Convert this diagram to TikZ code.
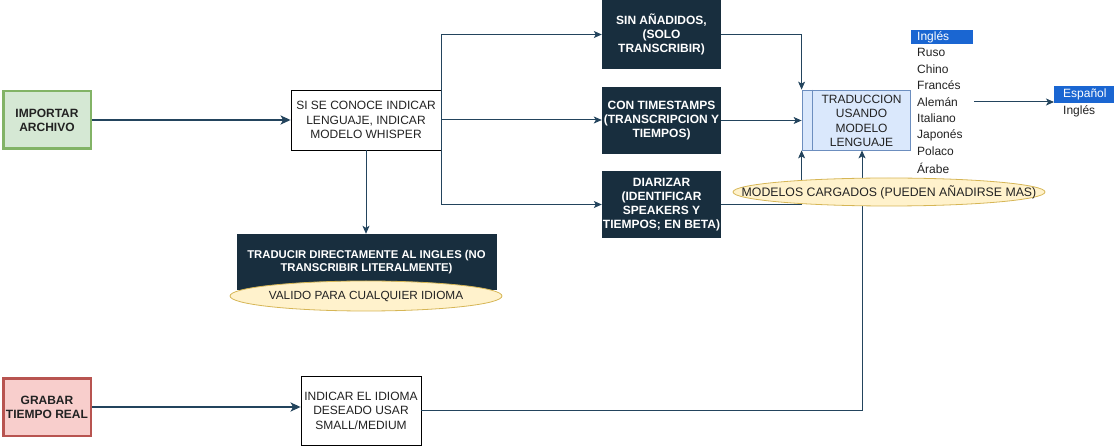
\documentclass[tikz,border=0pt]{standalone}
\usepackage{fontspec}
\setmainfont{Liberation Sans}
\usetikzlibrary{arrows.meta,shapes.geometric}
\definecolor{dk}{HTML}{182E3E}
\definecolor{ln}{HTML}{23445D}
\definecolor{gfill}{HTML}{D5E8D4}
\definecolor{gdraw}{HTML}{82B366}
\definecolor{rfill}{HTML}{F8CECC}
\definecolor{rdraw}{HTML}{B85450}
\definecolor{bfill}{HTML}{DAE8FC}
\definecolor{bdraw}{HTML}{6C8EBF}
\definecolor{yfill}{HTML}{FFF2CC}
\definecolor{ydraw}{HTML}{D6B656}
\definecolor{hl}{HTML}{1A66D2}
\definecolor{tx}{HTML}{222222}
\begin{document}
\begin{tikzpicture}[x=1pt,y=-1pt,
 srcbox/.style={line width=2.5pt, minimum width=87.5pt, minimum height=57.5pt, inner sep=0, align=center, text=tx, font=\bfseries\fontsize{12}{14}\selectfont},
 plainbox/.style={draw=black, line width=0.8pt, fill=white, inner sep=0, align=center, text=tx, font=\fontsize{12}{14.5}\selectfont},
 darkbox/.style={fill=dk, text=white, inner sep=0, align=center, minimum width=119pt, font=\bfseries\fontsize{12}{14}\selectfont},
 note/.style={ellipse, draw=ydraw, fill=yfill, line width=0.8pt, inner sep=0},
 notetext/.style={inner sep=0, text=tx, font=\fontsize{11.8}{14}\selectfont},
 conn/.style={draw=ln, line width=1pt, -{Stealth[length=8pt,width=7pt,inset=2pt]}},
 thickconn/.style={draw=ln, line width=2pt, -{Stealth[length=10pt,width=9pt,inset=2.5pt]}},
 lang/.style={anchor=west, inner sep=0, text=tx, font=\fontsize{12}{14}\selectfont},
 hlbox/.style={fill=hl, inner sep=0, anchor=north west},
]
\useasboundingbox (0,0) rectangle (1114,446);

% source boxes
\node[srcbox, fill=gfill, draw=gdraw] (imp) at (47,120) {IMPORTAR\\ARCHIVO};
\node[srcbox, fill=rfill, draw=rdraw] (grab) at (47,407) {GRABAR\\TIEMPO REAL};

% plain boxes
\node[plainbox, minimum width=150, minimum height=60] (si) at (366,120) {SI SE CONOCE INDICAR\\LENGUAJE, INDICAR\\MODELO WHISPER};
\node[plainbox, minimum width=120, minimum height=69] (ind) at (361,410.5) {INDICAR EL IDIOMA\\DESEADO USAR\\SMALL/MEDIUM};

% dark boxes
\node[darkbox, minimum height=69] (sin) at (661.5,34.5) {SIN AÑADIDOS,\\(SOLO\\TRANSCRIBIR)};
\node[darkbox, minimum height=67] (con) at (661.5,120.5) {CON TIMESTAMPS\\(TRANSCRIPCION Y\\TIEMPOS)};
\node[darkbox, minimum height=67] (diar) at (661.5,204.5) {DIARIZAR\\(IDENTIFICAR\\SPEAKERS Y\\TIEMPOS; EN BETA)};
\node[darkbox, minimum width=260, minimum height=56, font=\bfseries\fontsize{11.3}{13}\selectfont] (trd) at (366.5,262) {TRADUCIR DIRECTAMENTE AL INGLES (NO\\TRANSCRIBIR LITERALMENTE)};

% translation box
\node[draw=bdraw, fill=bfill, line width=0.8pt, minimum width=108, minimum height=60, inner sep=0] (trad) at (856,120) {};
\draw[bdraw, line width=0.8pt] ([xshift=11pt]trad.north west) -- ([xshift=11pt]trad.south west);
\node[align=center, inner sep=0, text=tx, font=\fontsize{12}{14.5}\selectfont] (tradtxt) at (861.5,121) {TRADUCCION\\USANDO\\MODELO\\LENGUAJE};

% connectors
\draw[thickconn] (imp) -- (si);
\draw[conn] (si.east) |- (sin.west);
\draw[conn] (si.east) -- (si.east -| con.west);
\draw[conn] (si.east) |- (diar.west);
\draw[conn] (si.south) -- (si.south |- trd.north);
\draw[conn] (sin.east) -| (trad.north west);
\draw[conn] (con.east) -- (con.east -| trad.west);
\draw[conn] (diar.east) -| (trad.south west);
\draw[thickconn] (grab) -- (grab.east -| ind.west);
\draw[conn] (ind.east) -| ([xshift=6pt]trad.south);

% notes
\node[note, minimum width=272, minimum height=30] (val) at (366,296) {};
\node[notetext] (valtxt) at (366,296) {VALIDO PARA CUALQUIER IDIOMA};
\node[note, minimum width=312, minimum height=28] (mod) at (889,192) {};
\node[notetext, font=\fontsize{12.3}{14}\selectfont] (modtxt) at (889,192) {MODELOS CARGADOS (PUEDEN AÑADIRSE MAS)};

% language list
\node[hlbox, minimum width=62, minimum height=14.5] (l1bg) at (911,29.5) {};
\node[lang, text=white] (l1) at (917,37) {Inglés};
\node[lang] (l2) at (917,52.5) {Ruso};
\node[lang] (l3) at (917,69) {Chino};
\node[lang] (l4) at (917,85.5) {Francés};
\node[lang] (l5) at (917,102) {Alemán};
\node[lang] (l6) at (917,118.5) {Italiano};
\node[lang] (l7) at (917,135) {Japonés};
\node[lang] (l8) at (917,151.5) {Polaco};
\node[lang] (l9) at (917,168) {Árabe};

\node[hlbox, minimum width=60, minimum height=17] (espbg) at (1054,86) {};
\node[lang, text=white] (esp) at (1063,94.5) {Español};
\node[lang] (en2) at (1063,111) {Inglés};
\coordinate (lsrc) at (974,102);
\draw[conn] (lsrc) -- (lsrc -| espbg.west);
\end{tikzpicture}
\end{document}
